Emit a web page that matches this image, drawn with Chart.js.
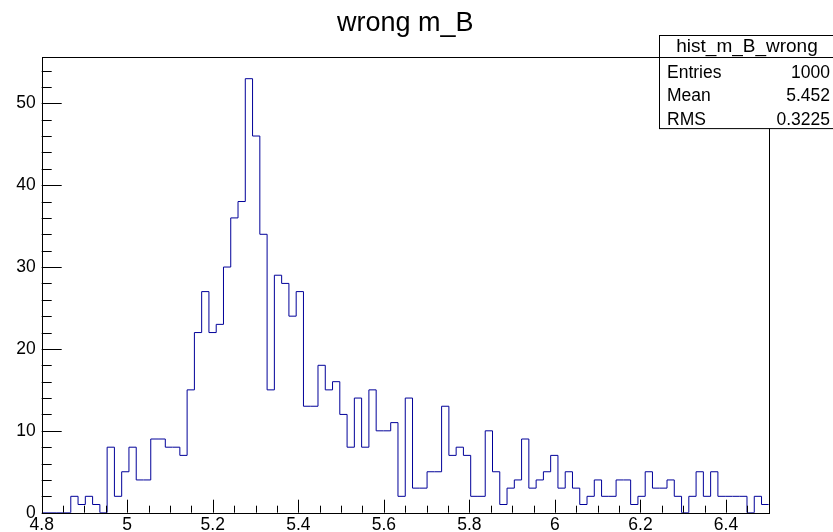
<!DOCTYPE html>
<html>
<head>
<meta charset="utf-8">
<script src="https://cdn.jsdelivr.net/npm/chart.js@4/dist/chart.umd.min.js"></script>
<style>
  html, body { margin: 0; padding: 0; background: #fff; }
  #c { display: block; }
</style>
</head>
<body>
<canvas id="c" width="833" height="532"></canvas>
<script>
// histogram: 100 bins from 4.8 to 6.5
const xMin = 4.8;
const xMax = 6.5;
const counts = [
  0, 0, 0, 0, 2, 1, 2, 1, 0, 8,
  2, 5, 8, 4, 4, 9, 9, 8, 8, 7,
  15, 22, 27, 22, 23, 30, 36, 38, 53, 46,
  34, 15, 29, 28, 24, 27, 13, 13, 18, 15,
  16, 12, 8, 14, 8, 15, 10, 10, 11, 2,
  14, 3, 3, 5, 5, 13, 7, 8, 7, 2,
  2, 10, 5, 1, 3, 4, 9, 3, 4, 5,
  7, 3, 5, 3, 1, 2, 4, 2, 2, 4,
  4, 1, 2, 5, 3, 3, 4, 2, 0, 2,
  5, 2, 5, 2, 2, 2, 2, 0, 2, 1
];
const xTicks = [4.8, 5, 5.2, 5.4, 5.6, 5.8, 6, 6.2, 6.4];
const yTicks = [0, 10, 20, 30, 40, 50];
const yMax = 55.65;
const titleText = 'wrong m_B';
const statsName = 'hist_m_B_wrong';
const statsLabels = ['Entries', 'Mean', 'RMS'];
const statsValues = ['1000', '5.452', '0.3225'];

const binW = (xMax - xMin) / counts.length;
const points = counts.map((c, i) => ({ x: xMin + i * binW, y: c }));
points.push({ x: xMax, y: counts[counts.length - 1] });

const FONT = 'Liberation Sans, Arial, Helvetica, sans-serif';

// ROOT style frame, inner ticks and stats box
const rootFrame = {
  id: 'rootFrame',
  afterDraw(chart) {
    const { ctx, chartArea: a, scales } = chart;
    const xs = scales.x, ys = scales.y;
    ctx.save();
    ctx.strokeStyle = '#000';
    ctx.lineWidth = 1;
    ctx.beginPath();
    // y ticks: major every 10, minor every 2
    for (let v = 0; v <= yMax; v += 2) {
      const y = Math.round(ys.getPixelForValue(v)) + 0.5;
      const len = v % 10 === 0 ? 20 : 10;
      ctx.moveTo(a.left, y);
      ctx.lineTo(a.left + len, y);
    }
    // x ticks: major every 0.2, minor every 0.05
    for (let k = 0; k * 0.05 <= xMax - xMin + 1e-9; k++) {
      const v = xMin + k * 0.05;
      const x = Math.round(xs.getPixelForValue(v)) + 0.5;
      const len = k % 4 === 0 ? 13 : 7;
      ctx.moveTo(x, a.bottom);
      ctx.lineTo(x, a.bottom - len);
    }
    ctx.stroke();
    ctx.strokeRect(Math.round(a.left) + 0.5, Math.round(a.top) + 0.5,
                   Math.round(a.right - a.left), Math.round(a.bottom - a.top));

    // stats box
    const bx = 659.5, by = 35.5, bw = 180, rowH = 23.7, headH = 22;
    const bh = headH + rowH * statsLabels.length;
    ctx.fillStyle = '#fff';
    ctx.fillRect(bx, by, bw, bh);
    ctx.strokeRect(bx, by, bw, bh);
    ctx.beginPath();
    ctx.moveTo(bx, by + headH);
    ctx.lineTo(bx + bw, by + headH);
    ctx.stroke();
    ctx.fillStyle = '#000';
    ctx.textBaseline = 'alphabetic';
    ctx.font = '19px ' + FONT;
    ctx.textAlign = 'center';
    ctx.fillText(statsName, 747, by + 16);
    ctx.font = '17.5px ' + FONT;
    statsLabels.forEach((lab, i) => {
      const yb = by + headH + rowH * (i + 1) - 3.5;
      ctx.textAlign = 'left';
      ctx.fillText(lab, 667, yb);
      ctx.textAlign = 'right';
      ctx.fillText(statsValues[i], 830, yb);
    });
    ctx.restore();
  }
};

new Chart(document.getElementById('c'), {
  type: 'line',
  data: {
    datasets: [{
      data: points,
      stepped: true,
      borderColor: '#000099',
      borderWidth: 1,
      pointRadius: 0,
      fill: false
    }]
  },
  options: {
    responsive: false,
    animation: false,
    devicePixelRatio: 1,
    layout: { padding: { left: 0, right: 64.2, top: 0, bottom: 0 } },
    plugins: {
      legend: { display: false },
      tooltip: { enabled: false },
      title: {
        display: true,
        text: titleText,
        fullSize: false,
        color: '#000',
        font: { family: FONT, size: 27, weight: 'normal', lineHeight: 1.2 },
        padding: { top: 7, bottom: 17.6 }
      }
    },
    scales: {
      x: {
        type: 'linear',
        min: xMin,
        max: xMax,
        afterBuildTicks: s => { s.ticks = xTicks.map(v => ({ value: v })); },
        afterFit: s => { s.height = 19.3; },
        grid: { display: false, drawTicks: false },
        border: { display: false },
        ticks: {
          autoSkip: false,
          maxRotation: 0,
          padding: 2,
          color: '#000',
          font: { family: FONT, size: 17.5 },
          callback: v => String(v)
        }
      },
      y: {
        type: 'linear',
        min: 0,
        max: yMax,
        afterBuildTicks: s => { s.ticks = yTicks.map(v => ({ value: v })); },
        afterFit: s => { s.width = 41.7; },
        grid: { display: false, drawTicks: false },
        border: { display: false },
        ticks: {
          padding: 6,
          color: '#000',
          font: { family: FONT, size: 17.5 },
          callback: v => String(v)
        }
      }
    }
  },
  plugins: [rootFrame]
});
</script>
</body>
</html>
